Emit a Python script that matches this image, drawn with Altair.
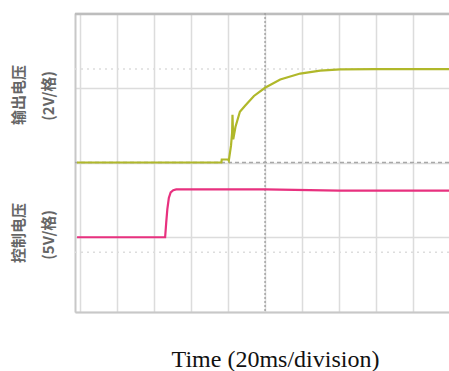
import altair as alt
import pandas as pd

# Output voltage trace (x in divisions, y in divisions)
out_t = [-0.08, 3.82, 3.83, 4.0, 4.02, 4.08, 4.11, 4.12, 4.14, 4.2, 4.32, 4.46, 4.7, 5.0, 5.41, 5.95, 6.49, 7.03, 8.0, 9.0, 10.0]
out_v = [0.0, 0.0, 0.08, 0.08, 0.05, 0.45, 0.8, 1.28, 0.62, 0.95, 1.36, 1.52, 1.78, 2.0, 2.22, 2.38, 2.46, 2.49, 2.5, 2.5, 2.5]

# Control voltage trace
ctl_t = [-0.08, 2.3, 2.33, 2.36, 2.4, 2.45, 2.52, 2.6, 5.0, 7.0, 10.0]
ctl_v = [-2.0, -2.0, -1.6, -1.25, -0.95, -0.8, -0.74, -0.72, -0.72, -0.75, -0.75]

x_grid = [0, 1, 2, 3, 4, 5, 6, 7, 8, 9]
y_grid = [-4, -3, -2, -1, 0, 1, 2, 3, 4]
minor_y = [2.5, -2.4]

label_top = ["输出电压", "(2V/格)"]
label_bot = ["控制电压", "(5V/格)"]
x_title = "Time (20ms/division)"

XD = [-0.135, 9.97]
YD = [-4, 4]

xs = alt.Scale(domain=XD, nice=False, zero=False)
ys = alt.Scale(domain=YD, nice=False, zero=False)

df_out = pd.DataFrame({"t": out_t, "v": out_v})
df_ctl = pd.DataFrame({"t": ctl_t, "v": ctl_v})

base_axis_x = alt.Axis(values=x_grid, labels=False, ticks=False, domain=True,
                       domainColor="#c8c8c8", domainWidth=2,
                       grid=True, gridColor="#dcdcdc", gridWidth=1.5,
                       title=x_title, titleFont="Liberation Serif", titleFontSize=24,
                       titleFontWeight="normal", titleColor="#111", titlePadding=35,
                       titleX=200, titleAlign="center")
base_axis_y = alt.Axis(values=y_grid, labels=False, ticks=False, domain=True,
                       domainColor="#c8c8c8", domainWidth=2,
                       grid=True, gridColor="#dcdcdc", gridWidth=1.5, title=None)

grid = alt.Chart(df_out).mark_point(opacity=0).encode(
    x=alt.X("t:Q", scale=xs, axis=base_axis_x),
    y=alt.Y("v:Q", scale=ys, axis=base_axis_y),
)

top_border = alt.Chart(pd.DataFrame({"y": [4]})).mark_rule(
    color="#bdbdbd", strokeWidth=2.5, clip=False
).encode(y=alt.value(1), x=alt.value(0), x2=alt.value(374))

minor = alt.Chart(pd.DataFrame({"y": minor_y})).mark_rule(
    color="#dddddd", strokeDash=[2, 4], strokeWidth=1.5
).encode(y=alt.Y("y:Q", scale=ys))

vcenter = alt.Chart(pd.DataFrame({"x": [5]})).mark_rule(
    color="#9a9a9a", strokeDash=[2, 2], strokeWidth=1.3
).encode(x=alt.X("x:Q", scale=xs))

hcenter = alt.Chart(pd.DataFrame({"y": [0]})).mark_rule(
    color="#a8a8a8", strokeDash=[4, 3], strokeWidth=1.3
).encode(y=alt.Y("y:Q", scale=ys))

line_out = alt.Chart(df_out).mark_line(color="#b0b82a", strokeWidth=2.2).encode(
    x=alt.X("t:Q", scale=xs), y=alt.Y("v:Q", scale=ys), order="t:Q")
line_ctl = alt.Chart(df_ctl).mark_line(color="#e8317f", strokeWidth=2.2).encode(
    x=alt.X("t:Q", scale=xs), y=alt.Y("v:Q", scale=ys), order="t:Q")

def lab(text, px, py):
    return alt.Chart(pd.DataFrame({"a": [0]})).mark_text(
        text=text, angle=270, align="center", baseline="middle",
        font="Noto Sans CJK SC", fontSize=15, fontWeight="bold", color="#666666"
    ).encode(x=alt.value(px), y=alt.value(py))

labels = (lab(label_top[0], -56, 82) + lab(label_top[1], -26, 83) +
          lab(label_bot[0], -56, 220) + lab(label_bot[1], -26, 222))

chart = alt.layer(grid, top_border, minor, vcenter, hcenter, line_ctl, line_out, labels).properties(
    width=374, height=299,
    autosize=alt.AutoSizeParams(type="none"),
    padding={"left": 75, "top": 13, "right": 0, "bottom": 59},
).configure_view(stroke=None).configure(background="white")

chart.save("out.html", embed_options={"renderer": "svg", "actions": False})
